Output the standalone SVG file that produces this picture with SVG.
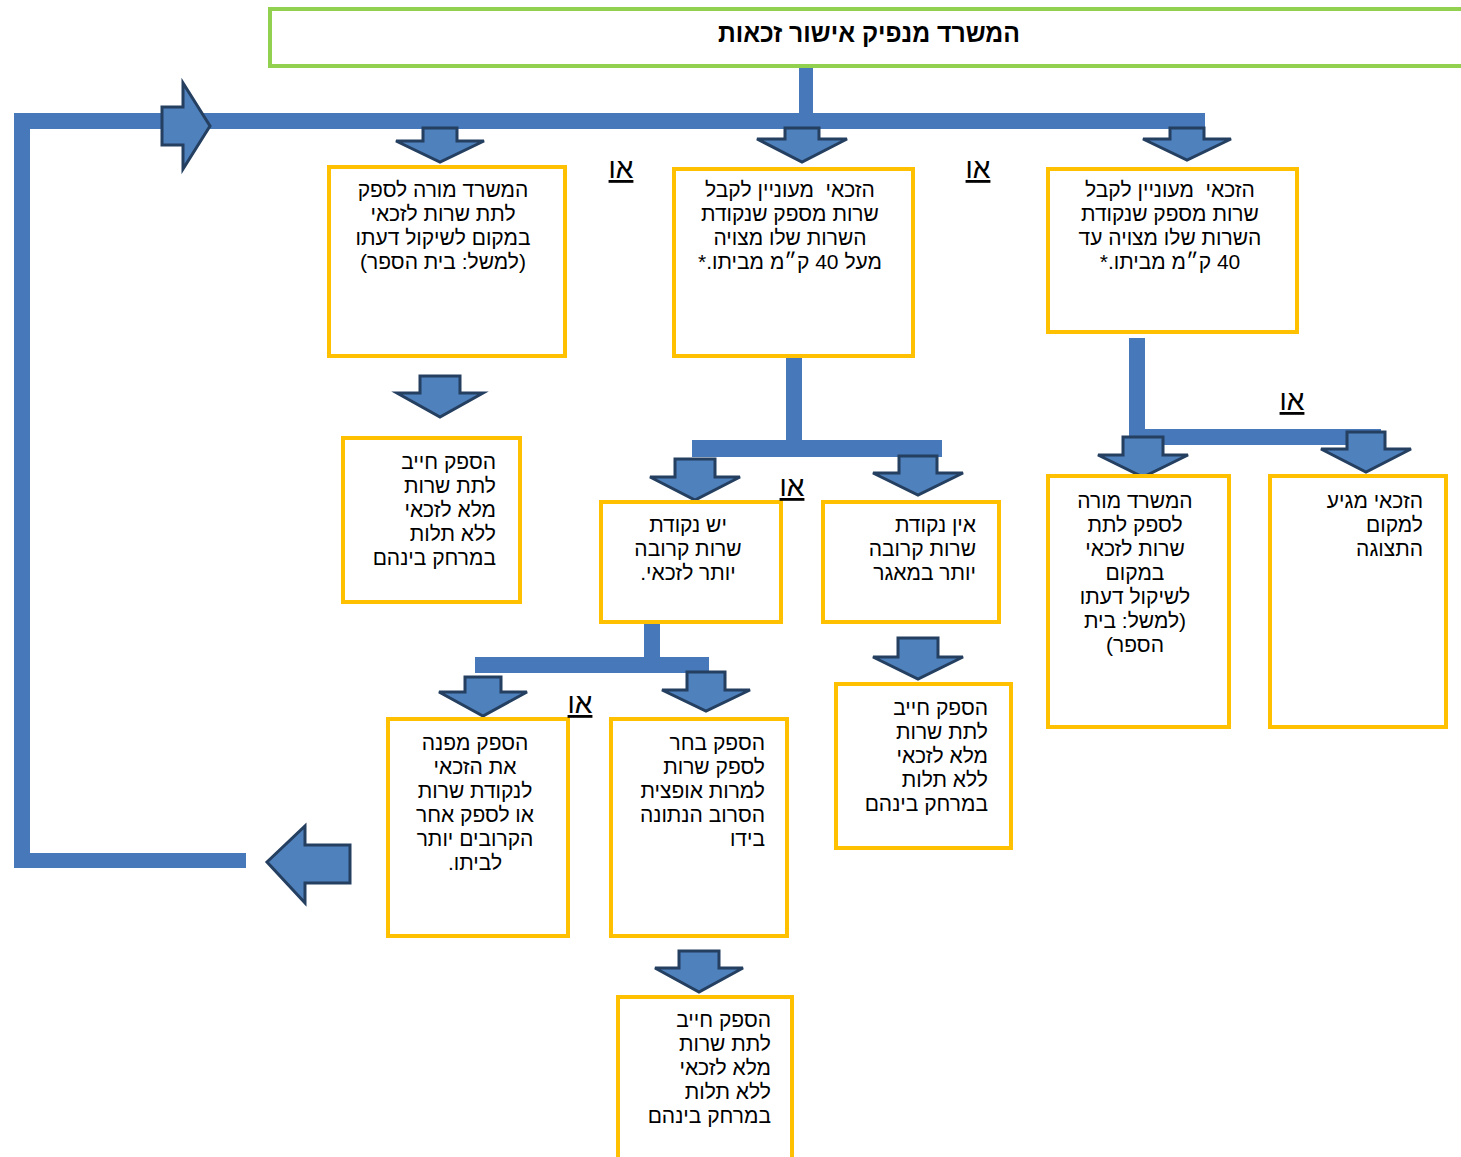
<svg xmlns="http://www.w3.org/2000/svg" width="1461" height="1157" viewBox="0 0 1461 1157">
<style>
.bx{fill:#fff;stroke:#FFC000;stroke-width:4}
.ln{fill:#4778B9}
.ar{fill:#4F81BD;stroke:#243F60;stroke-width:3;stroke-linejoin:miter}
.t{font-family:"Liberation Sans","DejaVu Sans",sans-serif;font-size:21px;fill:#000;direction:rtl}
.c{text-anchor:middle}
.r{text-anchor:start}
.o{font-family:"Liberation Sans","DejaVu Sans",sans-serif;font-size:28px;fill:#000;text-anchor:middle;text-decoration:underline;direction:rtl}
</style>
<rect width="1461" height="1157" fill="#fff"/>
<g id="connectors">
<rect class="ln" x="799" y="66" width="14" height="50"/>
<rect class="ln" x="14" y="113" width="1191" height="16"/>
<rect class="ln" x="14" y="113" width="16" height="755"/>
<rect class="ln" x="14" y="853" width="232" height="15"/>
<rect class="ln" x="786" y="352" width="16" height="92"/>
<rect class="ln" x="692" y="440" width="250" height="17"/>
<rect class="ln" x="1129" y="338" width="16" height="107"/>
<rect class="ln" x="1129" y="429" width="252" height="16"/>
<rect class="ln" x="644" y="620" width="16" height="53"/>
<rect class="ln" x="475" y="657" width="234" height="16"/>
<path class="ar" d="M162,107 L183,107 L183,83 L210,126 L183,169 L183,145 L162,145 Z"/>
<path class="ar" d="M350,845 L305,845 L305,826 L267,862 L305,903 L305,883 L350,883 Z"/>
<path class="ar" d="M423,128 L457,128 L457,141 L484,141 L440,162 L396,141 L423,141 Z"/>
<path class="ar" d="M785,128 L819,128 L819,139 L847,139 L802,162 L757,139 L785,139 Z"/>
<path class="ar" d="M1170,128 L1204,128 L1204,139 L1231,139 L1187,160 L1143,139 L1170,139 Z"/>
<path class="ar" d="M420,376 L460,376 L460,393 L483,393 L440,417 L397,393 L420,393 Z"/>
<path class="ar" d="M675,459 L715,459 L715,477 L740,477 L695,500 L650,477 L675,477 Z"/>
<path class="ar" d="M899,456 L937,456 L937,473 L963,473 L918,495 L873,473 L899,473 Z"/>
<path class="ar" d="M1123,437 L1163,437 L1163,455 L1188,455 L1143,477 L1098,455 L1123,455 Z"/>
<path class="ar" d="M1347,432 L1385,432 L1385,449 L1411,449 L1366,472 L1321,449 L1347,449 Z"/>
<path class="ar" d="M465,677 L501,677 L501,692 L527,692 L483,716 L439,692 L465,692 Z"/>
<path class="ar" d="M687,672 L725,672 L725,690 L750,690 L706,711 L662,690 L687,690 Z"/>
<path class="ar" d="M898,638 L938,638 L938,657 L963,657 L918,679 L873,657 L898,657 Z"/>
<path class="ar" d="M679,951 L719,951 L719,968 L743,968 L699,992 L655,968 L679,968 Z"/>
</g>
<g id="title">
<rect x="270" y="9" width="1200" height="57" fill="#fff" stroke="#92D050" stroke-width="4"/>
<text x="869" y="42" font-family="'Liberation Sans','DejaVu Sans',sans-serif" font-size="26" font-weight="bold" text-anchor="middle" direction="rtl" textLength="302" lengthAdjust="spacingAndGlyphs">המשרד מנפיק אישור זכאות</text>
</g>
<g id="boxA">
<rect class="bx" x="329" y="167" width="236" height="189"/>
<text class="t c" x="443" y="197">המשרד מורה לספק</text>
<text class="t c" x="443" y="221">לתת שרות לזכאי</text>
<text class="t c" x="443" y="245">במקום לשיקול דעתו</text>
<text class="t c" x="443" y="269">(למשל: בית הספר)</text>
</g>
<g id="boxB">
<rect class="bx" x="674" y="169" width="239" height="187"/>
<text class="t c" x="790" y="197">הזכאי&#160; מעוניין לקבל</text>
<text class="t c" x="790" y="221">שרות מספק שנקודת</text>
<text class="t c" x="790" y="245">השרות שלו מצויה</text>
<text class="t c" x="790" y="269">מעל 40 ק״מ מביתו.*</text>
</g>
<g id="boxC">
<rect class="bx" x="1048" y="169" width="249" height="163"/>
<text class="t c" x="1170" y="197">הזכאי&#160; מעוניין לקבל</text>
<text class="t c" x="1170" y="221">שרות מספק שנקודת</text>
<text class="t c" x="1170" y="245">השרות שלו מצויה עד</text>
<text class="t c" x="1170" y="269">40 ק״מ מביתו.*</text>
</g>
<g id="boxH">
<rect class="bx" x="343" y="438" width="177" height="164"/>
<text class="t r" x="496" y="469">הספק חייב</text>
<text class="t r" x="496" y="493">לתת שרות</text>
<text class="t r" x="496" y="517">מלא לזכאי</text>
<text class="t r" x="496" y="541">ללא תלות</text>
<text class="t r" x="496" y="565">במרחק בינהם</text>
</g>
<g id="boxD">
<rect class="bx" x="601" y="502" width="180" height="120"/>
<text class="t c" x="688" y="532">יש נקודת</text>
<text class="t c" x="688" y="556">שרות קרובה</text>
<text class="t c" x="688" y="580">יותר לזכאי.</text>
</g>
<g id="boxE">
<rect class="bx" x="823" y="502" width="176" height="120"/>
<text class="t r" x="976" y="532">אין נקודת</text>
<text class="t r" x="976" y="556">שרות קרובה</text>
<text class="t r" x="976" y="580">יותר במאגר</text>
</g>
<g id="boxF">
<rect class="bx" x="1048" y="476" width="181" height="251"/>
<text class="t c" x="1135" y="508">המשרד מורה</text>
<text class="t c" x="1135" y="532">לספק לתת</text>
<text class="t c" x="1135" y="556">שרות לזכאי</text>
<text class="t c" x="1135" y="580">במקום</text>
<text class="t c" x="1135" y="604">לשיקול דעתו</text>
<text class="t c" x="1135" y="628">(למשל: בית</text>
<text class="t c" x="1135" y="652">הספר)</text>
</g>
<g id="boxG">
<rect class="bx" x="1270" y="476" width="176" height="251"/>
<text class="t r" x="1423" y="508">הזכאי מגיע</text>
<text class="t r" x="1423" y="532">למקום</text>
<text class="t r" x="1423" y="556">התצוגה</text>
</g>
<g id="boxI">
<rect class="bx" x="388" y="719" width="180" height="217"/>
<text class="t c" x="475" y="750">הספק מפנה</text>
<text class="t c" x="475" y="774">את הזכאי</text>
<text class="t c" x="475" y="798">לנקודת שרות</text>
<text class="t c" x="475" y="822">או לספק אחר</text>
<text class="t c" x="475" y="846">הקרובים יותר</text>
<text class="t c" x="475" y="870">לביתו.</text>
</g>
<g id="boxJ">
<rect class="bx" x="611" y="719" width="176" height="217"/>
<text class="t r" x="765" y="750">הספק בחר</text>
<text class="t r" x="765" y="774">לספק שרות</text>
<text class="t r" x="765" y="798">למרות אופצית</text>
<text class="t r" x="765" y="822">הסרוב הנתונה</text>
<text class="t r" x="765" y="846">בידו</text>
</g>
<g id="boxK">
<rect class="bx" x="836" y="684" width="175" height="164"/>
<text class="t r" x="988" y="715">הספק חייב</text>
<text class="t r" x="988" y="739">לתת שרות</text>
<text class="t r" x="988" y="763">מלא לזכאי</text>
<text class="t r" x="988" y="787">ללא תלות</text>
<text class="t r" x="988" y="811">במרחק בינהם</text>
</g>
<g id="boxL">
<rect class="bx" x="618" y="997" width="174" height="175"/>
<text class="t r" x="771" y="1027">הספק חייב</text>
<text class="t r" x="771" y="1051">לתת שרות</text>
<text class="t r" x="771" y="1075">מלא לזכאי</text>
<text class="t r" x="771" y="1099">ללא תלות</text>
<text class="t r" x="771" y="1123">במרחק בינהם</text>
</g>
<g id="labels">
<text class="o" x="621" y="178">או</text>
<text class="o" x="978" y="178">או</text>
<text class="o" x="1292" y="410">או</text>
<text class="o" x="792" y="496">או</text>
<text class="o" x="580" y="713">או</text>
</g>
</svg>
